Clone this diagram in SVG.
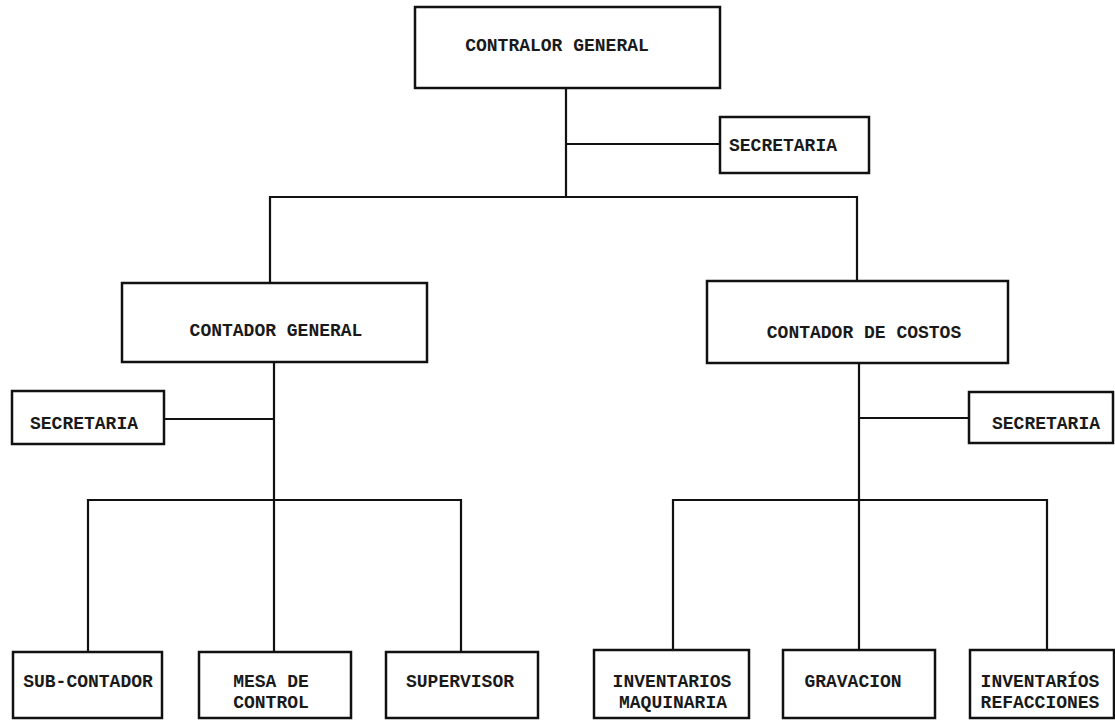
<svg xmlns="http://www.w3.org/2000/svg" width="1115" height="720" viewBox="0 0 1115 720">
<style>
.box{fill:#fff;stroke:#111;stroke-width:2.5}
.ln{fill:none;stroke:#111;stroke-width:2.2}
text{font-family:"Liberation Mono","Courier New",monospace;font-size:18px;font-weight:bold;fill:#1a1a1a;text-anchor:middle}
</style>
<rect width="1115" height="720" fill="#fff"/>
<g id="connectors">
<path class="ln" d="M566 88V197M566 144H720M270 283V197H857V281"/>
<path class="ln" d="M274 362V500M164 419H274M88 652V500H461V652M274 500V652"/>
<path class="ln" d="M859 363V500M859 418H969M673 650V500H1047V650M859 500V650"/>
</g>
<g id="contralor"><rect class="box" x="415" y="7" width="305" height="81"/><text x="557" y="51">CONTRALOR GENERAL</text></g>
<g id="secretaria-top"><rect class="box" x="720" y="117" width="149" height="56"/><text x="783" y="151">SECRETARIA</text></g>
<g id="contador-general"><rect class="box" x="122" y="283" width="305" height="79"/><text x="276" y="336">CONTADOR GENERAL</text></g>
<g id="contador-costos"><rect class="box" x="707" y="281" width="301" height="82"/><text x="864" y="338">CONTADOR DE COSTOS</text></g>
<g id="secretaria-left"><rect class="box" x="12" y="391" width="152" height="53"/><text x="84" y="429">SECRETARIA</text></g>
<g id="secretaria-right"><rect class="box" x="969" y="392" width="144" height="51"/><text x="1046" y="429">SECRETARIA</text></g>
<g id="sub-contador"><rect class="box" x="13" y="652" width="149" height="66"/><text x="88" y="687">SUB-CONTADOR</text></g>
<g id="mesa-control"><rect class="box" x="199" y="652" width="152" height="66"/><text x="271" y="687">MESA DE</text><text x="271" y="708">CONTROL</text></g>
<g id="supervisor"><rect class="box" x="386" y="652" width="152" height="66"/><text x="460" y="687">SUPERVISOR</text></g>
<g id="inv-maquinaria"><rect class="box" x="594" y="650" width="155" height="68"/><text x="672" y="687">INVENTARIOS</text><text x="673" y="708">MAQUINARIA</text></g>
<g id="gravacion"><rect class="box" x="783" y="650" width="152" height="68"/><text x="853" y="687">GRAVACION</text></g>
<g id="inv-refacciones"><rect class="box" x="970" y="650" width="144" height="68"/><text x="1040" y="687">INVENTARÍOS</text><text x="1040" y="708">REFACCIONES</text></g>
</svg>
